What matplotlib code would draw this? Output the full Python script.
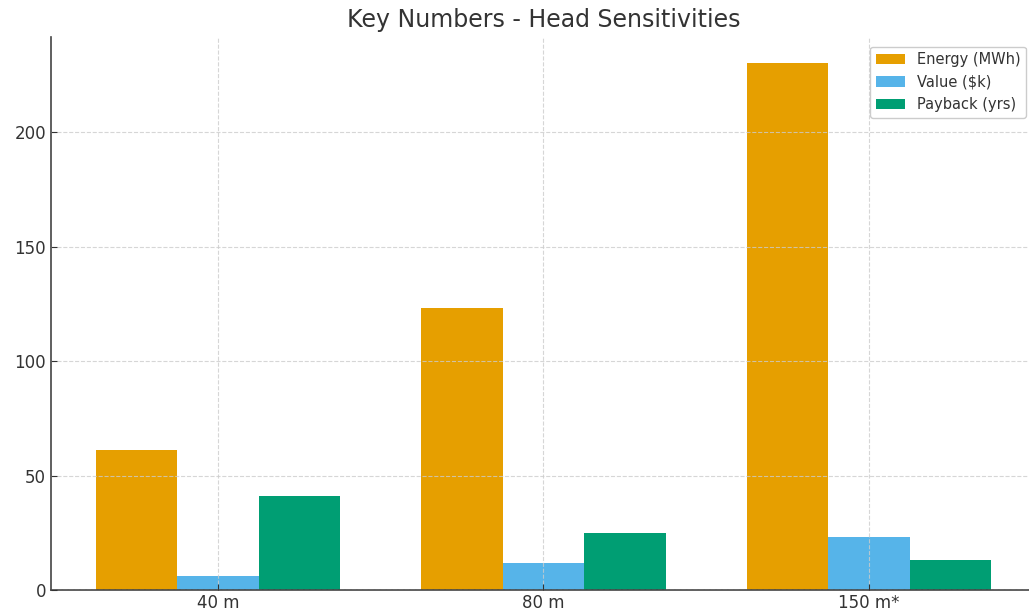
import numpy as np
import matplotlib
matplotlib.use("Agg")
import matplotlib.pyplot as plt

categories = ["40 m", "80 m", "150 m*"]
energy_mwh = [61, 123, 230]
value_k = [6, 12, 23]
payback_yrs = [41, 25, 13]
series_labels = ["Energy (MWh)", "Value ($k)", "Payback (yrs)"]
colors = ["#E69F00", "#56B4E9", "#009E73"]

fig = plt.figure(figsize=(10.29, 6.15), dpi=100)
ax = fig.add_axes([51/1029, 25/615, (1036-51)/1029, (590-37)/615])

x = np.arange(len(categories))
w = 0.25
for i, (vals, lab, c) in enumerate(zip([energy_mwh, value_k, payback_yrs], series_labels, colors)):
    ax.bar(x + (i - 1) * w, vals, w, label=lab, color=c, zorder=1)

ax.set_xticks(x)
ax.set_xticklabels(categories)
ax.set_xlim(-0.5125, 2.5125)
ax.set_ylim(0, 241.5)
ax.set_yticks([0, 50, 100, 150, 200])
ax.grid(True, linestyle="--", linewidth=0.8, color="#cccccc", alpha=0.8, zorder=3)
ax.set_axisbelow(False)
for s in ["top", "right"]:
    ax.spines[s].set_visible(False)
for s in ["left", "bottom"]:
    ax.spines[s].set_color("#444444")
    ax.spines[s].set_linewidth(1.2)
ax.tick_params(axis="both", labelsize=12, colors="#333333", length=4, direction="in")
ax.tick_params(axis="x", pad=3)
ax.set_title("Key Numbers - Head Sensitivities", fontsize=17, color="#333333", pad=7)
leg = ax.legend(loc="upper right", fontsize=10.5, bbox_to_anchor=(0.9975, 0.996), framealpha=1)
for t in leg.get_texts():
    t.set_color("#333333")

fig.savefig("out.png", dpi=100)
